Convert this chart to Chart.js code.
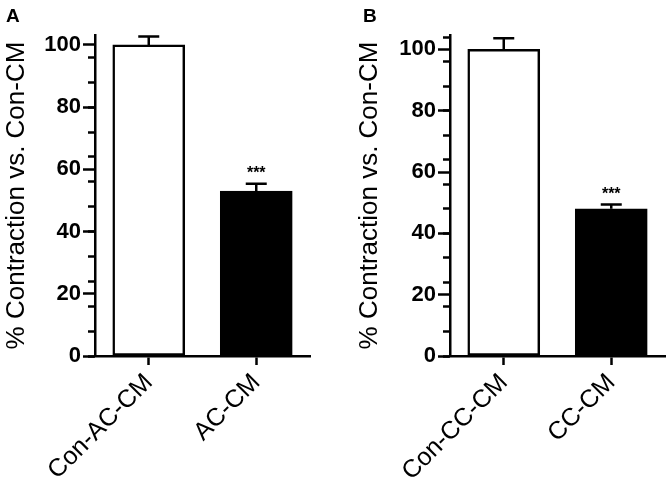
<!DOCTYPE html>
<html><head><meta charset="utf-8">
<script src="https://cdn.jsdelivr.net/npm/chart.js@4.4.1/dist/chart.umd.min.js"></script>
<style>
html,body{margin:0;padding:0;background:#fff;}
#wrap{position:relative;width:670px;height:492px;overflow:hidden;background:#fff;}
.panel{position:absolute;top:0;width:335px;height:492px;}
.lbl{position:absolute;font-family:'Liberation Sans',Arial,sans-serif;font-weight:bold;font-size:19px;line-height:19px;color:#000;}
</style></head><body>
<div id="wrap">
<div class="panel" style="left:0"><canvas id="cA" width="335" height="492"></canvas></div>
<div class="panel" style="left:335px"><canvas id="cB" width="335" height="492"></canvas></div>
<div class="lbl" style="left:6px;top:6px">A</div>
<div class="lbl" style="left:363px;top:6px">B</div>
</div>
<script>
const categoriesA = ['Con-AC-CM', 'AC-CM'];
const valuesA = [100, 53];
const errorsA = [2.7, 2.4];
const categoriesB = ['Con-CC-CM', 'CC-CM'];
const valuesB = [100, 48];
const errorsB = [3.6, 1.4];
const significance = ['', '***'];
const majorTicks = [0, 20, 40, 60, 80, 100];
const yTitle = '% Contraction vs. Con-CM';
const barColors = ['#ffffff', '#000000'];

const FAMILY = "'Liberation Sans', Arial, Helvetica, sans-serif";

const errorBarPlugin = {
  id: 'errorBars',
  afterDatasetsDraw(chart) {
    const ctx = chart.ctx;
    const meta = chart.getDatasetMeta(0);
    const ds = chart.data.datasets[0];
    const ys = chart.scales.y;
    ctx.save();
    ctx.strokeStyle = '#000';
    ctx.fillStyle = '#000';
    ctx.lineWidth = 2.5;
    meta.data.forEach((bar, i) => {
      const v = ds.data[i], e = ds.errors[i];
      const yTop = ys.getPixelForValue(v + e);
      const yBase = ys.getPixelForValue(v);
      ctx.beginPath();
      ctx.moveTo(bar.x, yBase);
      ctx.lineTo(bar.x, yTop);
      ctx.moveTo(bar.x - 10.5, yTop);
      ctx.lineTo(bar.x + 10.5, yTop);
      ctx.stroke();
      const s = significance[i];
      if (s) {
        ctx.font = 'bold 16px ' + FAMILY;
        ctx.textAlign = 'center';
        ctx.textBaseline = 'alphabetic';
        ctx.fillText(s, bar.x, yTop - 6);
      }
    });
    ctx.restore();
  }
};

function makeChart(id, cats, vals, errs, yMax, yWidth, titlePadTop, padRight) {
  return new Chart(document.getElementById(id), {
    type: 'bar',
    data: {
      labels: cats,
      datasets: [{
        data: vals,
        errors: errs,
        backgroundColor: barColors,
        borderColor: '#000',
        borderWidth: 2.5,
        borderSkipped: false,
        barThickness: 72
      }]
    },
    plugins: [errorBarPlugin],
    options: {
      responsive: false,
      animation: false,
      layout: { padding: { top: 35, right: padRight, bottom: 0, left: 0 } },
      plugins: { legend: { display: false }, tooltip: { enabled: false } },
      scales: {
        x: {
          type: 'category',
          offset: true,
          grid: { display: true, drawOnChartArea: false, offset: false, tickLength: 9, tickWidth: 2.5, tickColor: '#000' },
          border: { display: true, color: '#000', width: 2.5 },
          ticks: { color: '#000', font: { family: FAMILY, size: 25 }, minRotation: 45, maxRotation: 45, padding: 3, autoSkip: false },
          afterFit: s => { s.height = 136; }
        },
        y: {
          position: 'left',
          weight: 1,
          min: 0,
          max: yMax,
          afterBuildTicks: s => { s.ticks = majorTicks.map(v => ({ value: v })); },
          grid: { drawOnChartArea: false, tickLength: 12, tickWidth: 2.5, tickColor: '#000' },
          border: { display: true, color: '#000', width: 2.5 },
          ticks: { color: '#000', font: { family: FAMILY, size: 22, weight: 'bold' }, padding: 2 },
          title: { display: true, text: yTitle, color: '#000', font: { family: FAMILY, size: 26 }, padding: { top: titlePadTop, bottom: 0 } },
          afterFit: s => { s.width = yWidth; }
        },
        y2: {
          position: 'left',
          weight: 0,
          min: 0,
          max: yMax,
          grid: { drawOnChartArea: false, tickLength: 7, tickWidth: 2.5, tickColor: '#000' },
          border: { display: false },
          ticks: { stepSize: 4, includeBounds: false, callback: () => '' },
          afterFit: s => { s.width = 0; }
        }
      }
    }
  });
}

makeChart('cA', categoriesA, valuesA, errorsA, 103.2, 95, 1.4, 25);
makeChart('cB', categoriesB, valuesB, errorsB, 104.7, 115, 19.4, 5);
</script>
</body></html>
